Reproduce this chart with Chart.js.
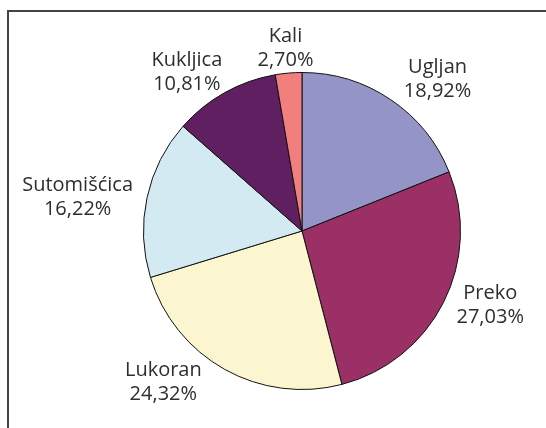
<!DOCTYPE html>
<html><head><meta charset="utf-8">
<script src="https://cdn.jsdelivr.net/npm/chart.js@4.4.1/dist/chart.umd.min.js"></script>
<style>html,body{margin:0;padding:0;background:#fff}#wrap{width:546px;height:428px;position:relative}</style>
</head><body><div id="wrap"><canvas id="c" width="546" height="428"></canvas></div>
<script>
const categories = ["Ugljan", "Preko", "Lukoran", "Sutomišćica", "Kukljica", "Kali"];
const shares = [18.92, 27.03, 24.32, 16.22, 10.81, 2.70];
const valueLabels = ["18,92%", "27,03%", "24,32%", "16,22%", "10,81%", "2,70%"];
const colors = ["#9594c6", "#9a3066", "#fcf6d0", "#d3eaf3", "#5f1f61", "#f07f7e"];

const FONT = '20px "Open Sans", sans-serif';

const framePlugin = {
  id: 'frame',
  beforeDraw(chart) {
    const ctx = chart.ctx;
    ctx.save();
    ctx.strokeStyle = '#444';
    ctx.lineWidth = 2;
    ctx.beginPath();
    ctx.moveTo(8, chart.height);
    ctx.lineTo(8, 11);
    ctx.lineTo(chart.width, 11);
    ctx.stroke();
    ctx.restore();
  }
};

const labelPlugin = {
  id: 'outLabels',
  afterDatasetsDraw(chart, args, opts) {
    const ctx = chart.ctx;
    const meta = chart.getDatasetMeta(0);
    const nudge = opts.nudge || [];
    ctx.save();
    ctx.font = FONT;
    ctx.fillStyle = '#2e2e2e';
    ctx.textAlign = 'center';
    ctx.textBaseline = 'alphabetic';
    meta.data.forEach((arc, i) => {
      const p = arc.getProps(['x','y','startAngle','endAngle','outerRadius'], true);
      const mid = (p.startAngle + p.endAngle) / 2;
      const w = Math.max(ctx.measureText(categories[i]).width, ctx.measureText(valueLabels[i]).width);
      const n = nudge[i] || [0, 0];
      const cx = p.x + Math.cos(mid) * (p.outerRadius + 32 + w / 2) + n[0];
      const cy = p.y + Math.sin(mid) * (p.outerRadius + 18) + n[1];
      ctx.fillText(categories[i], cx, cy - 6);
      ctx.fillText(valueLabels[i], cx, cy + 18);
    });
    ctx.restore();
  }
};

new Chart(document.getElementById('c'), {
  type: 'pie',
  data: {
    labels: categories,
    datasets: [{
      data: shares,
      backgroundColor: colors,
      borderColor: '#111',
      borderWidth: 1
    }]
  },
  options: {
    responsive: false,
    animation: false,
    layout: { padding: { left: 143, right: 85, top: 71, bottom: 37 } },
    plugins: {
      legend: { display: false },
      tooltip: { enabled: false },
      outLabels: { nudge: [[10, -6], [-12, -5], [-27, -3], [16, 3], [-5, -5], [2, -7]] }
    }
  },
  plugins: [framePlugin, labelPlugin]
});
</script>
</body></html>
